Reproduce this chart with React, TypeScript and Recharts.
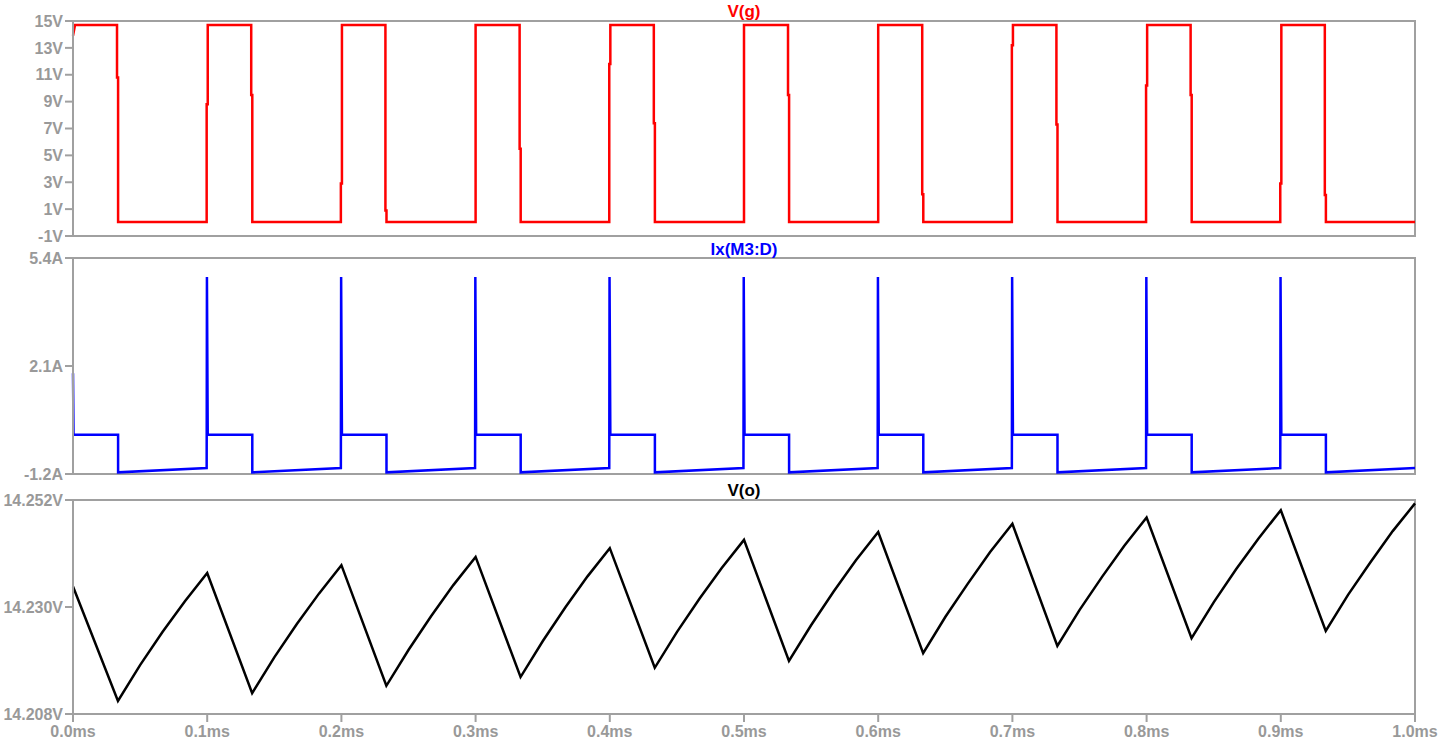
import React from "react";
import { LineChart, Line, XAxis, YAxis, ReferenceArea } from "recharts";

// ---------- tick values ----------
const timeTicks = [0, 0.1, 0.2, 0.3, 0.4, 0.5, 0.6, 0.7, 0.8, 0.9, 1.0];
const gateTicks = [-1, 1, 3, 5, 7, 9, 11, 13, 15];
const currentTicks = [-1.2, 2.1, 5.4];
const outTicks = [14.208, 14.23, 14.252];

// ---------- titles ----------
const gateTitle = "V(g)";
const currentTitle = "Ix(M3:D)";
const outTitle = "V(o)";

// ---------- V(g) (ms, V) ----------
const gateTime = [
  0, 0.0015, 0.0328, 0.0328, 0.0336, 0.0336,
  0.0996, 0.0996, 0.1004, 0.1004, 0.1328, 0.1328, 0.1336, 0.1336,
  0.1996, 0.1996, 0.2004, 0.2004, 0.2328, 0.2328, 0.2336, 0.2336,
  0.3, 0.3, 0.3328, 0.3328, 0.3336, 0.3336,
  0.3996, 0.3996, 0.4004, 0.4004, 0.4328, 0.4328, 0.4336, 0.4336,
  0.5, 0.5, 0.5328, 0.5328, 0.5336, 0.5336,
  0.6, 0.6, 0.6328, 0.6328, 0.6336, 0.6336,
  0.6996, 0.6996, 0.7004, 0.7004, 0.7328, 0.7328, 0.7336, 0.7336,
  0.7996, 0.7996, 0.8004, 0.8004, 0.8328, 0.8328, 0.8336, 0.8336,
  0.8996, 0.8996, 0.9004, 0.9004, 0.9328, 0.9328, 0.9336, 0.9336,
  1.0,
];
const gateVolt = [
  13.9, 14.7, 14.7, 10.8, 10.8, 0.05,
  0.05, 8.8, 8.8, 14.7, 14.7, 9.5, 9.5, 0.05,
  0.05, 2.9, 2.9, 14.7, 14.7, 0.9, 0.9, 0.05,
  0.05, 14.7, 14.7, 5.5, 5.5, 0.05,
  0.05, 11.8, 11.8, 14.7, 14.7, 7.4, 7.4, 0.05,
  0.05, 14.7, 14.7, 9.5, 9.5, 0.05,
  0.05, 14.7, 14.7, 2.1, 2.1, 0.05,
  0.05, 13.2, 13.2, 14.7, 14.7, 7.3, 7.3, 0.05,
  0.05, 10.2, 10.2, 14.7, 14.7, 9.5, 9.5, 0.05,
  0.05, 2.9, 2.9, 14.7, 14.7, 2.05, 2.05, 0.05,
  0.05,
];

// ---------- Ix(M3:D) (ms, A) ----------
const currentTime = [
  0, 0.0004, 0.0336, 0.0336,
  0.0996, 0.0998, 0.1004, 0.1336, 0.1336,
  0.1996, 0.1998, 0.2004, 0.2336, 0.2336,
  0.2996, 0.2998, 0.3004, 0.3336, 0.3336,
  0.3996, 0.3998, 0.4004, 0.4336, 0.4336,
  0.4996, 0.4998, 0.5004, 0.5336, 0.5336,
  0.5996, 0.5998, 0.6004, 0.6336, 0.6336,
  0.6996, 0.6998, 0.7004, 0.7336, 0.7336,
  0.7996, 0.7998, 0.8004, 0.8336, 0.8336,
  0.8996, 0.8998, 0.9004, 0.9336, 0.9336,
  1.0,
];
const currentAmp = [
  1.88, 0.0, 0.0, -1.15,
  -1.02, 4.82, 0.0, 0.0, -1.15,
  -1.02, 4.82, 0.0, 0.0, -1.15,
  -1.02, 4.82, 0.0, 0.0, -1.15,
  -1.02, 4.82, 0.0, 0.0, -1.15,
  -1.02, 4.82, 0.0, 0.0, -1.15,
  -1.02, 4.82, 0.0, 0.0, -1.15,
  -1.02, 4.82, 0.0, 0.0, -1.15,
  -1.02, 4.82, 0.0, 0.0, -1.15,
  -1.02, 4.82, 0.0, 0.0, -1.15,
  -1.02,
];

// ---------- V(o) (ms, V) ----------
const outTime = [
  0, 0.0335, 0.0501, 0.0668, 0.0834,
  0.1, 0.1335, 0.1501, 0.1668, 0.1834,
  0.2, 0.2335, 0.2501, 0.2668, 0.2834,
  0.3, 0.3335, 0.3501, 0.3668, 0.3834,
  0.4, 0.4335, 0.4501, 0.4668, 0.4834,
  0.5, 0.5335, 0.5501, 0.5668, 0.5834,
  0.6, 0.6335, 0.6501, 0.6668, 0.6834,
  0.7, 0.7335, 0.7501, 0.7668, 0.7834,
  0.8, 0.8335, 0.8501, 0.8668, 0.8834,
  0.9, 0.9335, 0.9501, 0.9668, 0.9834,
  1.0,
];
const outVolt = [
  14.2342, 14.2107, 14.2181, 14.2249, 14.2312,
  14.237, 14.2123, 14.2197, 14.2265, 14.2328,
  14.2386, 14.2138, 14.2212, 14.2281, 14.2345,
  14.2403, 14.2156, 14.223, 14.2299, 14.2363,
  14.2421, 14.2175, 14.2249, 14.2317, 14.238,
  14.2438, 14.2189, 14.2263, 14.2332, 14.2396,
  14.2454, 14.2205, 14.228, 14.2348, 14.2413,
  14.2471, 14.222, 14.2294, 14.2362, 14.2426,
  14.2484, 14.2236, 14.231, 14.2378, 14.2441,
  14.2499, 14.2251, 14.2325, 14.2392, 14.2456,
  14.2513,
];

const gateData = gateTime.map((t, i) => ({ t, v: gateVolt[i] }));
const currentData = currentTime.map((t, i) => ({ t, v: currentAmp[i] }));
const outData = outTime.map((t, i) => ({ t, v: outVolt[i] }));

const FONT = "'Liberation Sans', Arial, sans-serif";
const FRAME = "#a0a0a0";
const TEXT = "#999999";
const tickStyle = { fill: TEXT, fontSize: 16, fontWeight: "bold", fontFamily: FONT };

const W = 1440;
const RIGHT = 25;
const YW = 73;

function Title({ text, color, top }: { text: string; color: string; top: number }) {
  return (
    <div
      style={{
        position: "absolute",
        top,
        left: YW,
        width: W - YW - RIGHT,
        textAlign: "center",
        color,
        fontFamily: FONT,
        fontWeight: "bold",
        fontSize: 17,
        lineHeight: "17px",
        whiteSpace: "nowrap",
      }}
    >
      {text}
    </div>
  );
}

export default function App() {
  return (
    <div
      style={{
        position: "absolute",
        left: 0,
        top: 0,
        width: W,
        height: 744,
        background: "#ffffff",
        overflow: "hidden",
      }}
    >
      {/* Panel 1: V(g) */}
      <div style={{ position: "absolute", left: 0, top: 0 }}>
        <LineChart width={W} height={252} data={gateData} margin={{ top: 21, right: RIGHT, bottom: 16, left: 0 }}>
          <XAxis dataKey="t" type="number" domain={[0, 1]} ticks={timeTicks} hide />
          <YAxis
            type="number"
            domain={[-1, 15]}
            ticks={gateTicks}
            allowDataOverflow
            width={YW}
            tickSize={8}
            tickMargin={2}
            tick={tickStyle}
            tickLine={{ stroke: FRAME, strokeWidth: 2 }}
            axisLine={{ stroke: FRAME, strokeWidth: 2 }}
            tickFormatter={(v: number) => `${v}V`}
            interval={0}
          />
          <ReferenceArea x1={0} x2={1} y1={-1} y2={15} fill="none" fillOpacity={0} stroke={FRAME} strokeWidth={2} />
          <Line
            type="linear"
            dataKey="v"
            stroke="#ff0000"
            strokeWidth={2.5}
            dot={false}
            activeDot={false}
            isAnimationActive={false}
          />
        </LineChart>
      </div>

      {/* Panel 2: Ix(M3:D) */}
      <div style={{ position: "absolute", left: 0, top: 240 }}>
        <LineChart width={W} height={252} data={currentData} margin={{ top: 18, right: RIGHT, bottom: 18, left: 0 }}>
          <XAxis dataKey="t" type="number" domain={[0, 1]} ticks={timeTicks} hide />
          <YAxis
            type="number"
            domain={[-1.2, 5.4]}
            ticks={currentTicks}
            allowDataOverflow
            width={YW}
            tickSize={8}
            tickMargin={2}
            tick={tickStyle}
            tickLine={{ stroke: FRAME, strokeWidth: 2 }}
            axisLine={{ stroke: FRAME, strokeWidth: 2 }}
            tickFormatter={(v: number) => `${v.toFixed(1)}A`}
            interval={0}
          />
          <ReferenceArea x1={0} x2={1} y1={-1.2} y2={5.4} fill="none" fillOpacity={0} stroke={FRAME} strokeWidth={2} />
          <Line
            type="linear"
            dataKey="v"
            stroke="#0000ff"
            strokeWidth={2.5}
            dot={false}
            activeDot={false}
            isAnimationActive={false}
          />
        </LineChart>
      </div>

      {/* Panel 3: V(o) */}
      <div style={{ position: "absolute", left: 0, top: 480 }}>
        <LineChart width={W} height={264} data={outData} margin={{ top: 20, right: RIGHT, bottom: 0, left: 0 }}>
          <XAxis
            dataKey="t"
            type="number"
            domain={[0, 1]}
            ticks={timeTicks}
            height={30}
            tickSize={8}
            tickMargin={4}
            tick={tickStyle}
            tickLine={{ stroke: FRAME, strokeWidth: 2 }}
            axisLine={{ stroke: FRAME, strokeWidth: 2 }}
            tickFormatter={(v: number) => `${v.toFixed(1)}ms`}
            interval={0}
          />
          <YAxis
            type="number"
            domain={[14.208, 14.252]}
            ticks={outTicks}
            allowDataOverflow
            width={YW}
            tickSize={8}
            tickMargin={2}
            tick={tickStyle}
            tickLine={{ stroke: FRAME, strokeWidth: 2 }}
            axisLine={{ stroke: FRAME, strokeWidth: 2 }}
            tickFormatter={(v: number) => `${v.toFixed(3)}V`}
            interval={0}
          />
          <ReferenceArea x1={0} x2={1} y1={14.208} y2={14.252} fill="none" fillOpacity={0} stroke={FRAME} strokeWidth={2} />
          <Line
            type="linear"
            dataKey="v"
            stroke="#000000"
            strokeWidth={2.5}
            dot={false}
            activeDot={false}
            isAnimationActive={false}
          />
        </LineChart>
      </div>

      <Title text={gateTitle} color="#ff0000" top={3} />
      <Title text={currentTitle} color="#0000ff" top={241} />
      <Title text={outTitle} color="#000000" top={482} />
    </div>
  );
}
